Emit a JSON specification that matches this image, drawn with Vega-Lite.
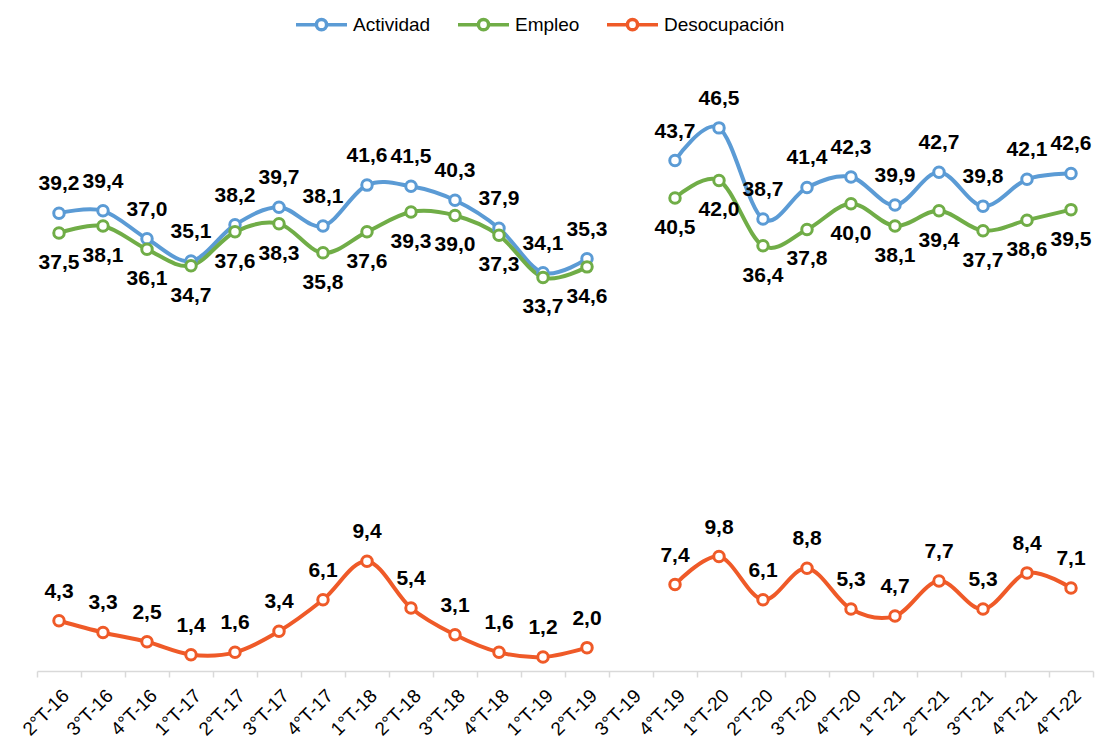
{
  "$schema": "https://vega.github.io/schema/vega-lite/v6.json",
  "width": 1056,
  "height": 584,
  "autosize": {"type": "none"},
  "padding": {"left": 37, "top": 87, "right": 3, "bottom": 72},
  "background": "white",
  "config": {
    "view": {"stroke": null},
    "font": "Liberation Sans",
    "locale": {"number": {"decimal": ",", "thousands": ".", "grouping": [3], "currency": ["", " €"]}}
  },
  "data": {"values": [
    {"t": "2°T-16", "serie": "Actividad", "v": 39.2, "tramo": 1},
    {"t": "3°T-16", "serie": "Actividad", "v": 39.4, "tramo": 1},
    {"t": "4°T-16", "serie": "Actividad", "v": 37.0, "tramo": 1},
    {"t": "1°T-17", "serie": "Actividad", "v": 35.1, "tramo": 1},
    {"t": "2°T-17", "serie": "Actividad", "v": 38.2, "tramo": 1},
    {"t": "3°T-17", "serie": "Actividad", "v": 39.7, "tramo": 1},
    {"t": "4°T-17", "serie": "Actividad", "v": 38.1, "tramo": 1},
    {"t": "1°T-18", "serie": "Actividad", "v": 41.6, "tramo": 1},
    {"t": "2°T-18", "serie": "Actividad", "v": 41.5, "tramo": 1},
    {"t": "3°T-18", "serie": "Actividad", "v": 40.3, "tramo": 1},
    {"t": "4°T-18", "serie": "Actividad", "v": 37.9, "tramo": 1},
    {"t": "1°T-19", "serie": "Actividad", "v": 34.1, "tramo": 1},
    {"t": "2°T-19", "serie": "Actividad", "v": 35.3, "tramo": 1},
    {"t": "4°T-19", "serie": "Actividad", "v": 43.7, "tramo": 2},
    {"t": "1°T-20", "serie": "Actividad", "v": 46.5, "tramo": 2},
    {"t": "2°T-20", "serie": "Actividad", "v": 38.7, "tramo": 2},
    {"t": "3°T-20", "serie": "Actividad", "v": 41.4, "tramo": 2},
    {"t": "4°T-20", "serie": "Actividad", "v": 42.3, "tramo": 2},
    {"t": "1°T-21", "serie": "Actividad", "v": 39.9, "tramo": 2},
    {"t": "2°T-21", "serie": "Actividad", "v": 42.7, "tramo": 2},
    {"t": "3°T-21", "serie": "Actividad", "v": 39.8, "tramo": 2},
    {"t": "4°T-21", "serie": "Actividad", "v": 42.1, "tramo": 2},
    {"t": "4°T-22", "serie": "Actividad", "v": 42.6, "tramo": 2},
    {"t": "2°T-16", "serie": "Empleo", "v": 37.5, "tramo": 1},
    {"t": "3°T-16", "serie": "Empleo", "v": 38.1, "tramo": 1},
    {"t": "4°T-16", "serie": "Empleo", "v": 36.1, "tramo": 1},
    {"t": "1°T-17", "serie": "Empleo", "v": 34.7, "tramo": 1},
    {"t": "2°T-17", "serie": "Empleo", "v": 37.6, "tramo": 1},
    {"t": "3°T-17", "serie": "Empleo", "v": 38.3, "tramo": 1},
    {"t": "4°T-17", "serie": "Empleo", "v": 35.8, "tramo": 1},
    {"t": "1°T-18", "serie": "Empleo", "v": 37.6, "tramo": 1},
    {"t": "2°T-18", "serie": "Empleo", "v": 39.3, "tramo": 1},
    {"t": "3°T-18", "serie": "Empleo", "v": 39.0, "tramo": 1},
    {"t": "4°T-18", "serie": "Empleo", "v": 37.3, "tramo": 1},
    {"t": "1°T-19", "serie": "Empleo", "v": 33.7, "tramo": 1},
    {"t": "2°T-19", "serie": "Empleo", "v": 34.6, "tramo": 1},
    {"t": "4°T-19", "serie": "Empleo", "v": 40.5, "tramo": 2},
    {"t": "1°T-20", "serie": "Empleo", "v": 42.0, "tramo": 2},
    {"t": "2°T-20", "serie": "Empleo", "v": 36.4, "tramo": 2},
    {"t": "3°T-20", "serie": "Empleo", "v": 37.8, "tramo": 2},
    {"t": "4°T-20", "serie": "Empleo", "v": 40.0, "tramo": 2},
    {"t": "1°T-21", "serie": "Empleo", "v": 38.1, "tramo": 2},
    {"t": "2°T-21", "serie": "Empleo", "v": 39.4, "tramo": 2},
    {"t": "3°T-21", "serie": "Empleo", "v": 37.7, "tramo": 2},
    {"t": "4°T-21", "serie": "Empleo", "v": 38.6, "tramo": 2},
    {"t": "4°T-22", "serie": "Empleo", "v": 39.5, "tramo": 2},
    {"t": "2°T-16", "serie": "Desocupación", "v": 4.3, "tramo": 1},
    {"t": "3°T-16", "serie": "Desocupación", "v": 3.3, "tramo": 1},
    {"t": "4°T-16", "serie": "Desocupación", "v": 2.5, "tramo": 1},
    {"t": "1°T-17", "serie": "Desocupación", "v": 1.4, "tramo": 1},
    {"t": "2°T-17", "serie": "Desocupación", "v": 1.6, "tramo": 1},
    {"t": "3°T-17", "serie": "Desocupación", "v": 3.4, "tramo": 1},
    {"t": "4°T-17", "serie": "Desocupación", "v": 6.1, "tramo": 1},
    {"t": "1°T-18", "serie": "Desocupación", "v": 9.4, "tramo": 1},
    {"t": "2°T-18", "serie": "Desocupación", "v": 5.4, "tramo": 1},
    {"t": "3°T-18", "serie": "Desocupación", "v": 3.1, "tramo": 1},
    {"t": "4°T-18", "serie": "Desocupación", "v": 1.6, "tramo": 1},
    {"t": "1°T-19", "serie": "Desocupación", "v": 1.2, "tramo": 1},
    {"t": "2°T-19", "serie": "Desocupación", "v": 2.0, "tramo": 1},
    {"t": "4°T-19", "serie": "Desocupación", "v": 7.4, "tramo": 2},
    {"t": "1°T-20", "serie": "Desocupación", "v": 9.8, "tramo": 2},
    {"t": "2°T-20", "serie": "Desocupación", "v": 6.1, "tramo": 2},
    {"t": "3°T-20", "serie": "Desocupación", "v": 8.8, "tramo": 2},
    {"t": "4°T-20", "serie": "Desocupación", "v": 5.3, "tramo": 2},
    {"t": "1°T-21", "serie": "Desocupación", "v": 4.7, "tramo": 2},
    {"t": "2°T-21", "serie": "Desocupación", "v": 7.7, "tramo": 2},
    {"t": "3°T-21", "serie": "Desocupación", "v": 5.3, "tramo": 2},
    {"t": "4°T-21", "serie": "Desocupación", "v": 8.4, "tramo": 2},
    {"t": "4°T-22", "serie": "Desocupación", "v": 7.1, "tramo": 2}
  ]},
  "encoding": {
    "x": {
      "field": "t", "type": "ordinal", "bandPosition": 0.5,
      "scale": {"type": "band", "paddingInner": 0, "paddingOuter": 0,
        "domain": ["2°T-16","3°T-16","4°T-16","1°T-17","2°T-17","3°T-17","4°T-17","1°T-18","2°T-18","3°T-18","4°T-18","1°T-19","2°T-19","3°T-19","4°T-19","1°T-20","2°T-20","3°T-20","4°T-20","1°T-21","2°T-21","3°T-21","4°T-21","4°T-22"]},
      "axis": {
        "title": null, "labelAngle": -45, "labelFontSize": 19, "labelColor": "#000000",
        "labelFont": "Liberation Sans", "labelPadding": 9, "labelDx": -2,
        "domainColor": "#d9d9d9", "domainWidth": 1.5, "tickColor": "#d9d9d9", "tickWidth": 1.5,
        "tickSize": 6, "tickBand": "extent", "grid": false
      }
    },
    "y": {
      "field": "v", "type": "quantitative",
      "scale": {"domain": [0, 50], "nice": false, "zero": true},
      "axis": null
    }
  },
  "layer": [
    {
      "mark": {"type": "line", "interpolate": "cardinal", "strokeWidth": 4},
      "encoding": {
        "stroke": {
          "field": "serie", "type": "nominal",
          "scale": {"domain": ["Actividad", "Empleo", "Desocupación"], "range": ["#5B9BD5", "#70AD47", "#EF5A28"]},
          "legend": {
            "title": null, "orient": "none", "direction": "horizontal",
            "legendX": 257, "legendY": -90, "padding": 0,
            "symbolType": "M-1,0L-0.2,0M0.2,0L1,0M0.2,0A0.2,0.2,0,1,1,-0.2,0A0.2,0.2,0,1,1,0.2,0",
            "symbolSize": 2601, "symbolStrokeWidth": 3.5, "symbolFillColor": "white",
            "labelFontSize": 19, "labelFont": "Liberation Sans", "labelColor": "#000000",
            "labelOffset": 4, "columnPadding": 20
          }
        },
        "detail": {"field": "tramo", "type": "nominal"}
      }
    },
    {
      "mark": {"type": "point", "shape": "circle", "size": 110, "strokeWidth": 3, "filled": false, "fill": "white", "fillOpacity": 1, "opacity": 1},
      "encoding": {
        "stroke": {"field": "serie", "type": "nominal"}
      }
    },
    {
      "transform": [{"filter": "datum.serie !== 'Empleo'"}],
      "mark": {"type": "text", "fontWeight": "bold", "fontSize": 21, "dy": -29, "baseline": "middle", "align": "center", "color": "#000000"},
      "encoding": {
        "text": {"field": "v", "type": "quantitative", "format": ".1f"}
      }
    },
    {
      "transform": [{"filter": "datum.serie === 'Empleo'"}],
      "mark": {"type": "text", "fontWeight": "bold", "fontSize": 21, "dy": 30, "baseline": "middle", "align": "center", "color": "#000000"},
      "encoding": {
        "text": {"field": "v", "type": "quantitative", "format": ".1f"}
      }
    }
  ]
}
